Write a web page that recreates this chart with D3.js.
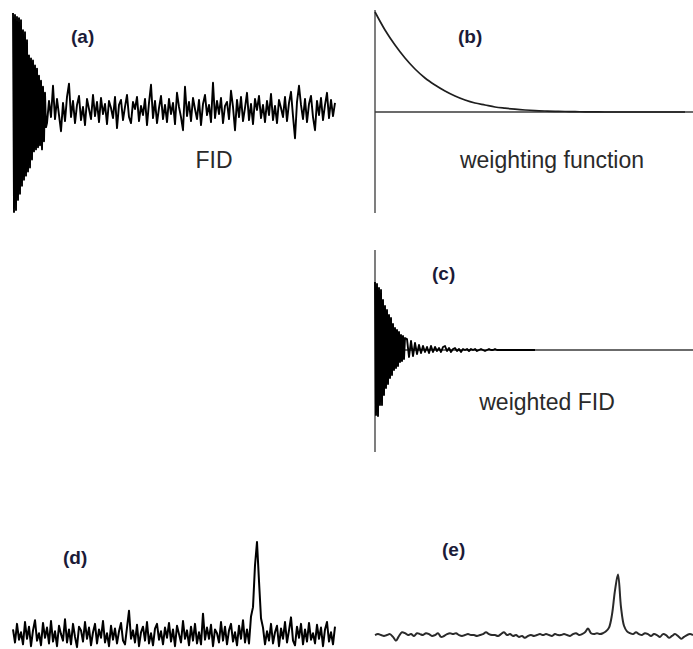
<!DOCTYPE html>
<html>
<head>
<meta charset="utf-8">
<script src="https://cdn.jsdelivr.net/npm/d3@7"></script>
<style>
  body { margin: 0; background: #fff; }
  svg { display: block; }
  .tag { font-family: "Liberation Sans", Arial, sans-serif; font-weight: bold; font-size: 19px; fill: #1b1b38; }
  .caption { font-family: "Liberation Sans", Arial, sans-serif; font-size: 23px; fill: #2a2a2a; }
</style>
</head>
<body>
<svg width="693" height="649"></svg>
<script>
// (a) raw FID (arbitrary units, full scale = 100)
// first part sampled finely, the rest at half that rate
const fidRawHead = [
  97,-100,95,-98,93,-88,92,-82,90,-74,
  80,-68,78,-64,70,-60,55,-56,52,-48,
  50,-40,45,-38,42,-36,35,-34,30,-38,
  24,-30,18,-16,-12
];
const fidRawTail = [
  10,-6,
  25,-8,12,-4,-20,8,-10,14,27,-6,
  10,-12,6,15,-9,4,-14,12,2,-8,
  16,-5,9,-11,13,-3,7,-13,10,3,
  -7,14,-17,6,11,-9,4,16,-6,-12,
  9,2,14,-10,5,-4,12,-14,8,26,
  -7,10,-12,3,15,-8,6,-11,12,-3,
  8,-13,18,4,-6,-19,24,-5,9,-10,
  13,2,-8,11,-14,7,16,-4,6,-11,
  28,-7,10,-3,13,-12,5,9,-8,20,
  4,-19,11,-6,14,-10,3,18,-9,7,
  -13,12,1,15,-7,6,-11,10,-4,17,
  -9,5,-12,11,3,-6,14,-10,8,19,
  -5,-27,9,25,6,-8,12,-11,7,15,
  -6,-19,10,-4,13,-9,6,18,-7,11,
  -5,8
];

// (b) exponential weighting function, one value every 10 time units
const weighting = [
  1.00,0.82,0.67,0.54,0.43,0.34,0.27,0.21,0.16,0.12,
  0.09,0.07,0.05,0.038,0.028,0.02,0.014,0.01,0.007,0.005,
  0.003,0.002,0.001,0,0,0,0,0,0,0,
  0,0
];

// (c) weighted FID, same sampling scheme as (a)
const fidWeightedHead = [
  68,-65,66,-66,62,-55,60,-55,50,-45,
  44,-38,40,-34,35,-28,32,-25,26,-20,
  22,-18,20,-16,18,-12,15,-11,14,-9,
  12
];
const fidWeightedTail = [
  11,-7,9,-6,
  7,-4,5,-3,4,-2,3,-3,4,-2,
  3,-1,2,-2,3,4,-1,2,-2,1,
  2,-1,1,-2,1,0,1,-1,1,0,
  1,-1,0,1,0,-1,0,1,0,0,
  1,0,0,0,0,0,0,0,0,0,
  0,0,0,0,0,0,0,0,0,0,0
];

// (d) spectrum of the raw FID
const specRaw = [
  6,-8,12,-5,3,-10,14,-4,9,-12,
  5,16,-6,2,-11,13,-3,8,-9,15,
  -7,4,-12,10,1,-6,17,-8,6,-10,
  12,-2,-13,9,5,-7,14,-4,8,-11,
  3,12,-9,6,-3,15,-8,2,-12,10,
  -5,7,-9,4,13,-6,-10,8,26,-4,
  5,-8,11,-12,3,9,-6,14,-9,2,
  -11,7,12,-5,4,-10,8,-3,13,-7,
  6,-12,10,1,-8,15,-4,5,-11,9,
  -6,12,-9,3,-10,23,-5,8,-4,11,
  -12,6,2,-8,14,-6,9,-10,5,12,
  -7,3,-11,10,-4,16,-8,6,-9,20,
  30,75,100,58,18,8,-10,4,-6,12,
  -9,3,10,-12,7,-4,14,-8,5,19,
  -6,-11,9,-3,12,-10,6,-7,13,-5,
  2,-9,11,-4,8,-12,6,14,-7,3,
  -10,9
];

// (e) spectrum of the weighted FID
const specWeighted = [
  0,1,0,-1,0,1,-2,-6,-1,3,
  2,0,1,-1,2,1,0,2,1,-1,
  0,2,-2,-1,1,2,1,2,0,-1,
  0,1,0,0,-1,0,1,3,1,0,
  0,-1,1,3,0,1,-1,0,-2,-1,
  -3,-1,0,-1,0,1,0,1,0,-1,
  1,0,0,1,0,-1,1,2,0,1,
  3,7,2,1,2,1,2,4,8,22,
  48,65,30,10,4,2,1,3,1,0,
  2,1,-1,1,0,-2,1,0,-3,-1,
  1,-1,-4,-2,0,1,0
];

const panelTags = ['(a)', '(b)', '(c)', '(d)', '(e)'];
const captions = ['FID', 'weighting function', 'weighted FID'];

const svg = d3.select('svg');

const trace = (values, x, y, color, width, curve) => {
  const line = d3.line()
    .x((d, i) => x(i))
    .y(d => y(d))
    .curve(curve || d3.curveLinear);
  svg.append('path')
    .datum(values)
    .attr('d', line)
    .attr('fill', 'none')
    .attr('stroke', color)
    .attr('stroke-width', width)
    .attr('stroke-linejoin', 'round');
};

const axisLines = (x, y, top, bottom) => {
  const g = svg.append('g').attr('stroke', '#3a3a3a').attr('stroke-width', 1.3);
  g.append('line')
    .attr('x1', x.range()[0]).attr('x2', x.range()[0])
    .attr('y1', top).attr('y2', bottom);
  g.append('line')
    .attr('x1', x.range()[0]).attr('x2', 693)
    .attr('y1', y(0)).attr('y2', y(0));
};

// (a)
const fidRaw = fidRawHead.concat(fidRawTail);
const hA = fidRawHead.length - 1;
const xA = d3.scaleLinear()
  .domain([0, hA, fidRaw.length - 1])
  .range([13, 13 + hA, 13 + hA + 2 * fidRawTail.length]);
const yA = d3.scaleLinear().domain([-100, 100]).range([212, 10]);
trace(fidRaw, xA, yA, '#000', 1.9);

// (b)
const xB = d3.scaleLinear().domain([0, 31.8]).range([375, 693]);
const yB = d3.scaleLinear().domain([0, 1]).range([112, 12]);
axisLines(xB, yB, 10, 213);
trace(weighting, xB, yB, '#1e1e1e', 1.7, d3.curveMonotoneX);

// (c)
const fidWeighted = fidWeightedHead.concat(fidWeightedTail);
const hC = fidWeightedHead.length - 1;
const xC = d3.scaleLinear()
  .domain([0, hC, fidWeighted.length - 1])
  .range([375, 375 + hC, 375 + hC + 2 * fidWeightedTail.length]);
const yC = d3.scaleLinear().domain([-100, 100]).range([450, 250]);
axisLines(xC, yC, 250, 452);
trace(fidWeighted, xC, yC, '#000', 1.9);

// (d)
const xD = d3.scaleLinear().domain([0, specRaw.length - 1]).range([13, 335]);
const yD = d3.scaleLinear().domain([-15, 100]).range([649, 542]);
trace(specRaw, xD, yD, '#000', 2);

// (e)
const xE = d3.scaleLinear().domain([0, specWeighted.length - 1]).range([375, 693]);
const yE = d3.scaleLinear().domain([-15, 100]).range([649, 542]);
trace(specWeighted, xE, yE, '#2a2a2a', 2, d3.curveCatmullRom);

// labels
const tagPos = [[71, 43], [458, 43], [432, 280], [63, 564], [442, 556]];
svg.selectAll('text.tag').data(panelTags).enter().append('text')
  .attr('class', 'tag')
  .attr('x', (d, i) => tagPos[i][0])
  .attr('y', (d, i) => tagPos[i][1])
  .text(d => d);

const capPos = [[214, 168], [552, 168], [547, 410]];
svg.selectAll('text.caption').data(captions).enter().append('text')
  .attr('class', 'caption')
  .attr('text-anchor', 'middle')
  .attr('x', (d, i) => capPos[i][0])
  .attr('y', (d, i) => capPos[i][1])
  .text(d => d);
</script>
</body>
</html>
